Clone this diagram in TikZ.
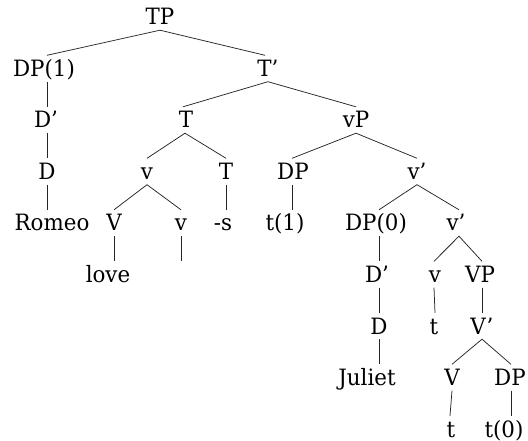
\documentclass[tikz,border=0pt]{standalone}
\usepackage{fontspec}
\setmainfont{DejaVu Serif}[FakeStretch=0.95]
\begin{document}
\begin{tikzpicture}[x=1pt,y=-1pt,
  lbl/.style={anchor=base,inner xsep=0pt,inner ysep=5pt,text height=16pt,text depth=0pt,
    font=\fontsize{22.5}{26}\selectfont,text=black},
  edge/.style={draw=black!85,line width=0.75pt}]
\useasboundingbox (0,0) rectangle (528,441);
% row 1
\node[lbl] (tp) at (160,25) {TP};
% row 2
\node[lbl] (dp1) at (44,76.5) {DP(1)};
\node[lbl] (tbar) at (268,76.5) {T'};
% row 3
\node[lbl] (dbar1) at (46,128) {D'};
\node[lbl] (t3) at (186,128) {T};
\node[lbl] (vp) at (356,128) {vP};
% row 4
\node[lbl] (d1) at (47,179.5) {D};
\node[lbl] (v4) at (147,179.5) {v};
\node[lbl] (t4) at (226,179.5) {T};
\node[lbl] (dp4) at (293,179.5) {DP};
\node[lbl] (vbar4) at (417,179.5) {v'};
% row 5
\node[lbl] (romeo) at (52,231) {Romeo};
\node[lbl] (V5) at (114,231) {V};
\node[lbl] (v5) at (181,231) {v};
\node[lbl] (s5) at (223,231) {-s};
\node[lbl] (t1) at (285,231) {t(1)};
\node[lbl] (dp0) at (376,231) {DP(0)};
\node[lbl] (vbar5) at (456,231) {v'};
% row 6
\node[lbl] (love) at (108,282.5) {love};
\node[lbl] (empty) at (181,282.5) {};
\node[lbl] (dbar6) at (377,282.5) {D'};
\node[lbl] (v6) at (435,282.5) {v};
\node[lbl] (VP6) at (480,282.5) {VP};
% row 7
\node[lbl] (d7) at (379,334) {D};
\node[lbl] (t7) at (434,334) {t};
\node[lbl] (vbar7) at (482,334) {V'};
% row 8
\node[lbl] (juliet) at (367,385.5) {Juliet};
\node[lbl] (V8) at (452,385.5) {V};
\node[lbl] (dp8) at (510,385.5) {DP};
% row 9
\node[lbl] (t9) at (451,437) {t};
\node[lbl] (t0) at (504,437) {t(0)};
% edges
\draw[edge] (tp.south) -- ([xshift=3pt]dp1.north);
\draw[edge] (tp.south) -- ([xshift=-3pt]tbar.north);
\draw[edge] ([xshift=3pt]dp1.south) -- ([xshift=1pt]dbar1.north);
\draw[edge] ([xshift=1pt]dbar1.south) -- (d1.north);
\draw[edge] (d1.south) -- ([xshift=-5pt]romeo.north);
\draw[edge] (tbar.south) -- ([xshift=-3pt]t3.north);
\draw[edge] (tbar.south) -- (vp.north);
\draw[edge] ([xshift=-1pt]t3.south) -- (v4.north);
\draw[edge] ([xshift=-1pt]t3.south) -- (t4.north);
\draw[edge] (v4.south) -- (V5.north);
\draw[edge] (v4.south) -- (v5.north);
\draw[edge] (t4.south) -- ([xshift=3pt]s5.north);
\draw[edge] (V5.south) -- ([xshift=6pt]love.north);
\draw[edge] (v5.south) -- (empty.north);
\draw[edge] (vp.south) -- ([xshift=-1pt]dp4.north);
\draw[edge] (vp.south) -- (vbar4.north);
\draw[edge] ([xshift=-1pt]dp4.south) -- ([xshift=7pt]t1.north);
\draw[edge] (vbar4.south) -- ([xshift=3pt]dp0.north);
\draw[edge] (vbar4.south) -- ([xshift=3pt]vbar5.north);
\draw[edge] ([xshift=3pt]dp0.south) -- ([xshift=2pt]dbar6.north);
\draw[edge] ([xshift=2pt]dbar6.south) -- (d7.north);
\draw[edge] (d7.south) -- ([xshift=12pt]juliet.north);
\draw[edge] ([xshift=3pt]vbar5.south) -- ([xshift=-1pt]v6.north);
\draw[edge] ([xshift=3pt]vbar5.south) -- ([xshift=2pt]VP6.north);
\draw[edge] ([xshift=-1pt]v6.south) -- ([xshift=1pt]t7.north);
\draw[edge] ([xshift=2pt]VP6.south) -- (vbar7.north);
\draw[edge] (vbar7.south) -- (V8.north);
\draw[edge] (vbar7.south) -- ([xshift=1pt]dp8.north);
\draw[edge] (V8.south) -- ([xshift=-1pt]t9.north);
\draw[edge] ([xshift=1pt]dp8.south) -- ([xshift=7pt]t0.north);
\end{tikzpicture}
\end{document}
